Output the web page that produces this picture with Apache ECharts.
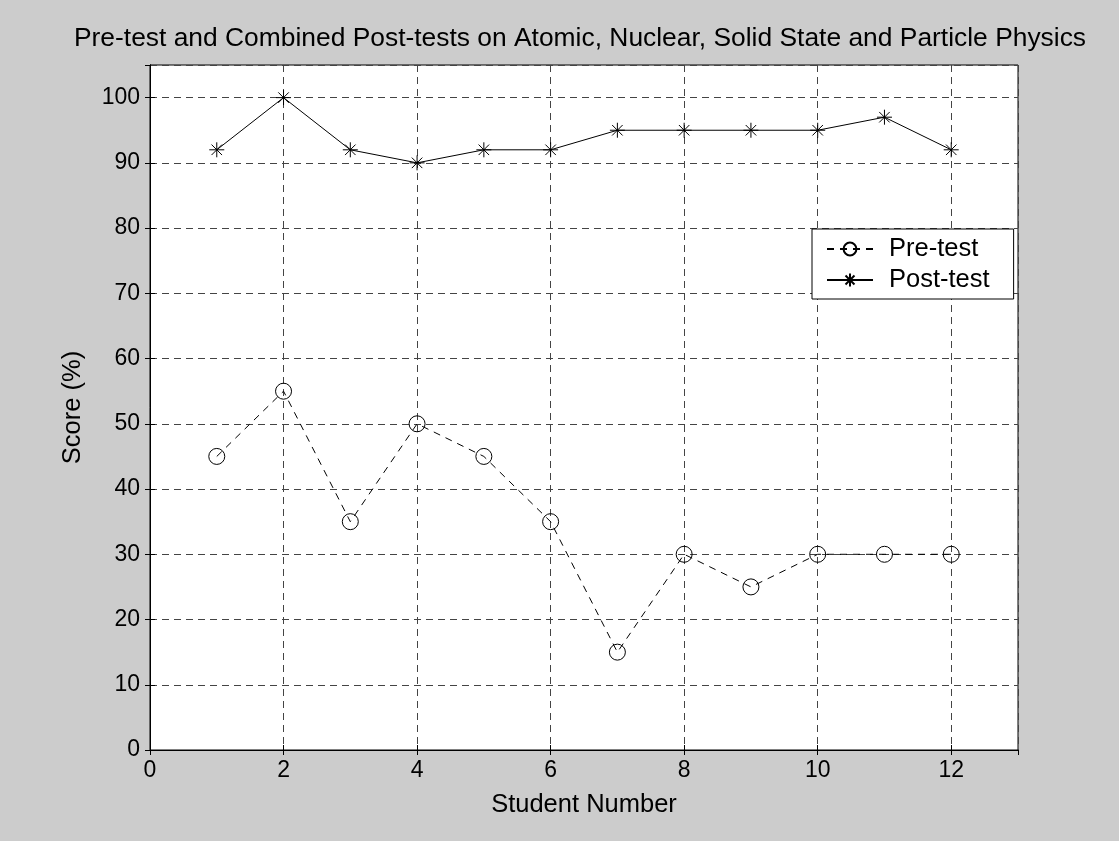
<!DOCTYPE html>
<html>
<head>
<meta charset="utf-8">
<script src="https://cdn.jsdelivr.net/npm/echarts@6/dist/echarts.min.js"></script>
<style>
  html, body { margin: 0; padding: 0; background: #cccccc; }
  #chart { width: 1119px; height: 841px; }
</style>
</head>
<body>
<div id="chart"></div>
<script>
// student numbers 1..12
const students = [1, 2, 3, 4, 5, 6, 7, 8, 9, 10, 11, 12];
const preTest = [45, 55, 35, 50, 45, 35, 15, 30, 25, 30, 30, 30];
const postTest = [92, 100, 92, 90, 92, 92, 95, 95, 95, 95, 97, 92];

const font = "'Liberation Sans', Arial, sans-serif";
// asterisk marker, like matlab '*'
const star = "path://M0 5L10 5M5 0L5 10M1.5 1.5L8.5 8.5M1.5 8.5L8.5 1.5";

const gridLine = { show: true, lineStyle: { color: "#444", width: 1, type: [7, 5] } };

const chart = echarts.init(document.getElementById("chart"));
chart.setOption({
  backgroundColor: "#cccccc",
  animation: false,
  title: {
    text: "Pre-test and Combined Post-tests on Atomic, Nuclear, Solid State and Particle Physics",
    left: 580,
    textAlign: "center",
    top: 26,
    padding: 0,
    textStyle: { fontFamily: font, fontSize: 26.4, fontWeight: "normal", color: "#000" },
  },
  grid: {
    left: 150,
    right: 101,
    top: 65,
    bottom: 91,
    show: true,
    backgroundColor: "#fff",
    borderColor: "#000",
    borderWidth: 1,
  },
  legend: {
    orient: "vertical",
    left: 812,
    top: 229,
    padding: [7, 24, 6, 14],
    itemGap: 5,
    itemWidth: 46,
    itemHeight: 16,
    backgroundColor: "#fff",
    borderColor: "#000",
    borderWidth: 1,
    borderRadius: 0,
    textStyle: { fontFamily: font, fontSize: 25.5, color: "#000", padding: [0, 0, 0, 11] },
    data: ["Pre-test", "Post-test"],
  },
  xAxis: [
    {
      type: "value",
      min: 0,
      max: 13,
      interval: 2,
      name: "Student Number",
      nameLocation: "middle",
      nameGap: 42,
      nameTextStyle: { fontFamily: font, fontSize: 25.5, color: "#000" },
      axisLine: { lineStyle: { color: "#000", width: 1 } },
      axisTick: { inside: true, length: 5, lineStyle: { color: "#000" } },
      axisLabel: { fontFamily: font, fontSize: 23, color: "#000", margin: 9, showMaxLabel: false },
      splitLine: gridLine,
    },
    {
      type: "value",
      position: "top",
      min: 0,
      max: 13,
      interval: 2,
      axisLine: { lineStyle: { color: "#000" } },
      axisTick: { inside: true, length: 5, lineStyle: { color: "#000" } },
      axisLabel: { show: false },
      splitLine: { show: false },
    },
  ],
  yAxis: [
    {
      type: "value",
      min: 0,
      max: 105,
      interval: 10,
      name: "Score (%)",
      nameLocation: "middle",
      nameGap: 64,
      nameTextStyle: { fontFamily: font, fontSize: 25.5, color: "#000" },
      axisLine: { show: true, lineStyle: { color: "#000", width: 1 } },
      axisTick: { show: true, inside: true, length: 5, lineStyle: { color: "#000" } },
      axisLabel: { fontFamily: font, fontSize: 23, color: "#000", margin: 10, showMaxLabel: false },
      splitLine: gridLine,
    },
    {
      type: "value",
      position: "right",
      min: 0,
      max: 105,
      interval: 10,
      axisLine: { show: true, lineStyle: { color: "#000" } },
      axisTick: { show: true, inside: true, length: 5, lineStyle: { color: "#000" } },
      axisLabel: { show: false },
      splitLine: { show: false },
    },
  ],
  series: [
    {
      name: "Pre-test",
      type: "line",
      data: students.map((s, i) => [s, preTest[i]]),
      symbol: "circle",
      symbolSize: 16,
      lineStyle: { color: "#000", width: 1, type: [7, 6] },
      itemStyle: { color: "rgba(0,0,0,0)", borderColor: "#000", borderWidth: 1 },
      emphasis: { disabled: true },
      z: 3,
    },
    {
      name: "Post-test",
      type: "line",
      data: students.map((s, i) => [s, postTest[i]]),
      symbol: star,
      symbolSize: 15,
      symbolKeepAspect: true,
      lineStyle: { color: "#000", width: 1 },
      itemStyle: { color: "#000", borderColor: "#000", borderWidth: 1 },
      emphasis: { disabled: true },
      z: 3,
    },
  ],
});
</script>
</body>
</html>
